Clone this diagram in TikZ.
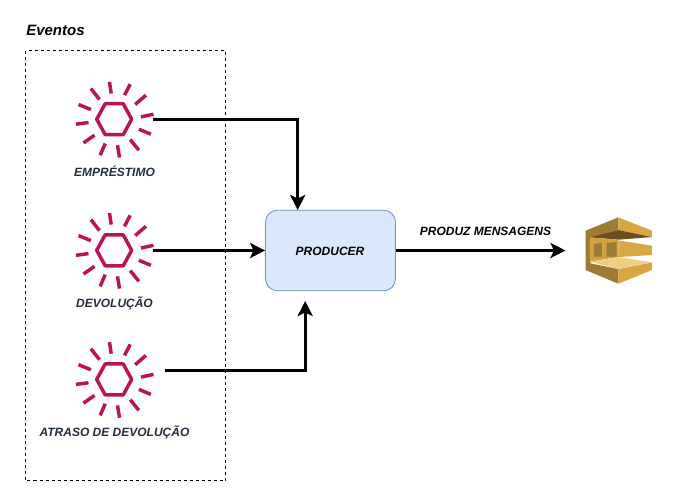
\documentclass[tikz,border=0pt]{standalone}
\usepackage{fontspec}
\setmainfont{Liberation Sans}
\usetikzlibrary{arrows.meta}
\definecolor{evred}{HTML}{BC1356}
\definecolor{evtext}{HTML}{232F3E}
\definecolor{prodfill}{HTML}{DAE8FC}
\definecolor{prodline}{HTML}{6C8EBF}
\definecolor{sqsA}{HTML}{D9A741}
\definecolor{sqsB}{HTML}{9D7A35}
\definecolor{sqsC}{HTML}{6B4F1F}
\definecolor{sqsD}{HTML}{F0CF85}
\definecolor{sqsE}{HTML}{D2A23E}
\definecolor{sqsF}{HTML}{9D7A35}
\tikzset{
  x=0.75pt,y=-0.75pt,
  flow/.style={line width=2.25pt,-{Stealth[length=11.25pt,width=11.25pt,inset=2.6pt]}},
  eventlabel/.style={font=\bfseries\itshape\fontsize{9}{11}\selectfont,text=evtext,inner sep=0pt},
  blacklabel/.style={font=\bfseries\itshape\fontsize{9}{11}\selectfont,inner sep=0pt},
  producerbox/.style={draw=prodline,fill=prodfill,rounded corners=9pt,line width=0.6pt,inner sep=0pt,
     minimum width=97.5pt,minimum height=60.5pt},
  evicon/.pic={
    \draw[evred,line width=2.6pt,line join=round]
      (-17.5,0)--(-9,-15.5)--(9,-15.5)--(17.5,0)--(9,15.5)--(-9,15.5)--cycle;
    \foreach \a/\b/\c/\d in {
      -4.7/-37.3/-3/-25.7,
      16/-35/10.3/-24,
      31.7/-24/21/-14.7,
      39.3/-5/26.7/-2.3,
      36.7/15/24.7/10,
      24.7/31/16/20.3,
      5.3/38.3/3.3/26,
      -14/36/-9/24.3,
      -30.7/23.7/-19.7/16,
      -38.3/5/-25.7/3.3,
      -35.7/-14.7/-23.3/-9.7,
      -23.3/-30.7/-14.7/-19.7}
      {\draw[evred,line width=2.6pt] (\a,\b)--(\c,\d);}
  },
  sqsicon/.pic={
    \begin{scope}[x=0.25pt,y=-0.25pt,shift={(-145,-137)}]
      \fill[sqsB] (47,77)--(145,37)--(145,75)--(62,98)--(62,175)--(145,192)--(145,236)--(47,195)--cycle;
      \fill[sqsA] (145,37)--(246,77)--(246,96)--(145,75)--cycle;
      \fill[sqsA] (145,192)--(246,172)--(246,195)--(145,236)--cycle;
      \fill[sqsC] (60,97)--(145,75)--(246,96)--(145,104)--cycle;
      \fill[sqsE] (60,97)--(145,104)--(145,156)--(60,170)--cycle;
      \fill[sqsF] (72,117)--(96,114)--(96,155)--(72,155)--cycle;
      \fill[sqsF] (110,113)--(140,111)--(140,155)--(110,155)--cycle;
      \fill[sqsA] (145,106)--(246,122)--(246,150)--(145,156)--cycle;
      \fill[sqsD] (60,170)--(145,156)--(246,172)--(145,192)--cycle;
    \end{scope}
  }
}
\begin{document}
\begin{tikzpicture}
\useasboundingbox (0,0) rectangle (674,501);
\fill[white] (0,0) rectangle (674,501);
\node[coordinate] (boxA) at (25.5,50.5) {};
\node[coordinate] (boxB) at (225.5,480.5) {};
\draw[line width=0.7pt,dash pattern=on 2.25pt off 2.25pt] (boxA) rectangle (boxB);
\node[anchor=base west,inner sep=0pt,font=\bfseries\itshape\fontsize{11.25}{13}\selectfont] (title) at (26,35.5) {Eventos};

\pic at (114.2,119.2) {evicon};
\pic at (114.2,250.3) {evicon};
\pic at (114.2,379.4) {evicon};
\node[eventlabel,anchor=base] (l1) at (114.5,176) {EMPRÉSTIMO};
\node[eventlabel,anchor=base] (l2) at (114.5,307) {DEVOLUÇÃO};
\node[eventlabel,anchor=base] (l3) at (114.5,436) {ATRASO DE DEVOLUÇÃO};

\node[producerbox] (prod) at (330.5,250.5) {};
\node[blacklabel] (prodtext) at (330,251) {PRODUCER};
\node[blacklabel,anchor=base] (msg) at (485.5,235) {PRODUZ MENSAGENS};
\pic at (618.3,250.7) {sqsicon};

\node[coordinate] (e1) at (153,119.5) {};
\node[coordinate] (e2) at (153,250.5) {};
\node[coordinate] (e3) at (165,370.5) {};
\node[coordinate] (c1) at (297.7,119.5) {};
\node[coordinate] (c3) at (305.2,370.5) {};
\node[coordinate] (p1) at (297.7,210) {};
\node[coordinate] (p3) at (305.2,301) {};
\node[coordinate] (sqs) at (565.5,250.5) {};
\draw[flow] (e1)--(c1)--(p1);
\draw[flow] (e2)--(e2-|prod.west);
\draw[flow] (e3)--(c3)--(p3);
\draw[flow] (sqs-|prod.east)--(sqs);
\end{tikzpicture}
\end{document}
